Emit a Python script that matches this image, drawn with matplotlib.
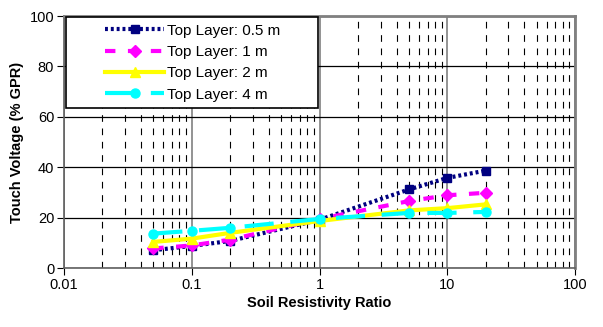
import matplotlib
matplotlib.use("Agg")
import matplotlib.pyplot as plt
from matplotlib.ticker import FixedLocator, LogLocator, NullFormatter
from matplotlib.legend_handler import HandlerLine2D

plt.rcParams['font.family'] = ['Liberation Sans', 'DejaVu Sans']

ratio = [0.05, 0.1, 0.2, 1, 5, 10, 20]
layer_05 = [7.1, 8.8, 10.8, 19.2, 31.2, 35.8, 38.7]
layer_1 = [7.8, 9.0, 11.3, 19.5, 26.6, 28.9, 29.9]
layer_2 = [10.4, 11.7, 14.0, 18.7, 22.9, 23.8, 25.3]
layer_4 = [13.7, 14.8, 16.0, 19.5, 21.9, 21.9, 22.3]
labels = ['Top Layer: 0.5 m', 'Top Layer: 1 m', 'Top Layer: 2 m', 'Top Layer: 4 m']

fig = plt.figure(figsize=(6.03, 3.27), dpi=100)
ax = fig.add_axes([0.106, 0.180, 0.848, 0.771])

l1, = ax.plot(ratio, layer_05, color='#000080', linestyle=(0, (0.7, 0.7)), linewidth=3,
              marker='s', markersize=6, label=labels[0])
l2, = ax.plot(ratio, layer_1, color='#ff00ff', linestyle=(0, (2.5, 3)), linewidth=3,
              marker='D', markersize=6, label=labels[1])
l3, = ax.plot(ratio, layer_2, color='#ffff00', linestyle='-', linewidth=3,
              marker='^', markersize=7, label=labels[2])
l4, = ax.plot(ratio, layer_4, color='#00ffff', linestyle=(0, (7, 4)), linewidth=3,
              marker='o', markersize=6.5, label=labels[3])

ax.set_xscale('log')
ax.set_xlim(0.01, 100)
ax.set_ylim(0, 100)
ax.xaxis.set_major_locator(FixedLocator([0.01, 0.1, 1, 10, 100]))
ax.set_xticklabels(['0.01', '0.1', '1', '10', '100'])
ax.xaxis.set_minor_locator(LogLocator(base=10, subs=range(2, 10)))
ax.xaxis.set_minor_formatter(NullFormatter())
ax.set_yticks([0, 20, 40, 60, 80, 100])

ax.grid(True, which='major', axis='x', color='#808080', linewidth=1.2)
ax.grid(True, which='minor', axis='x', color='black', linestyle=(0, (6, 6)), linewidth=0.8)
ax.grid(True, which='major', axis='y', color='black', linewidth=0.9)
ax.set_axisbelow(True)

ax.tick_params(axis='both', which='major', direction='out', length=5, labelsize=10.5, pad=2)
ax.tick_params(axis='x', which='minor', length=0)
for side in ['top', 'right']:
    ax.spines[side].set_color('#808080')
    ax.spines[side].set_linewidth(2)
for side in ['left', 'bottom']:
    ax.spines[side].set_color('#606060')
    ax.spines[side].set_linewidth(1.2)

ax.set_xlabel('Soil Resistivity Ratio', fontsize=10.5, fontweight='bold', labelpad=3)
ax.set_ylabel('Touch Voltage (% GPR)', fontsize=10.5, fontweight='bold', labelpad=4)

handler = HandlerLine2D(xpad=2.1)
leg = ax.legend(handler_map={l1: handler, l2: handler, l3: handler, l4: handler},
                loc='upper left', bbox_to_anchor=(0.004, 0.0, 0.493, 0.996), mode='expand',
                borderaxespad=0, fontsize=11, frameon=True, fancybox=False,
                edgecolor='black', framealpha=1, handlelength=6.0,
                labelspacing=0.48, handletextpad=0.2, borderpad=0.44)
leg.get_frame().set_linewidth(1.2)

fig.savefig('out.png', dpi=100)
